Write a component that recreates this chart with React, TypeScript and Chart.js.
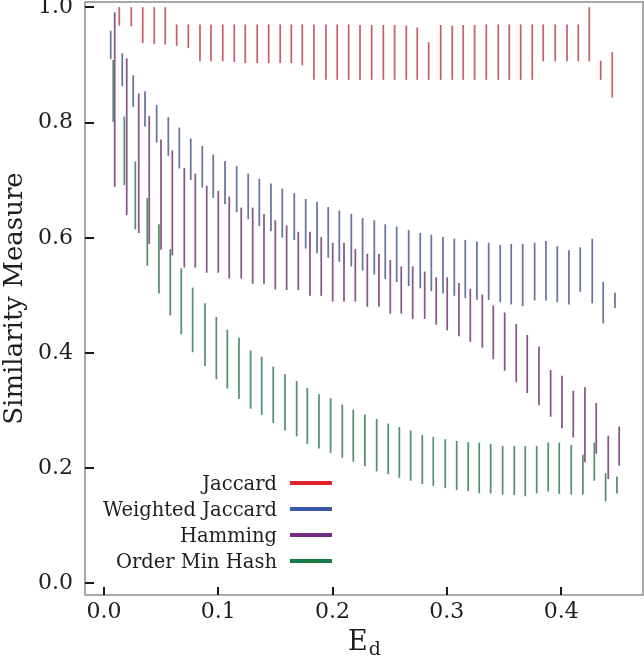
import React, { useEffect, useRef } from 'react';
import { Chart, registerables } from 'chart.js';

Chart.register(...registerables);

// ---------- Data ----------
const seriesNames = ['Jaccard', 'Weighted Jaccard', 'Hamming', 'Order Min Hash'];
const legendColors = ['#e3232b', '#3a57a8', '#742a82', '#1b7b45'];
const barColors = ['rgb(198,98,106)', 'rgb(104,118,158)', 'rgb(136,86,136)', 'rgb(86,146,114)'];

const xTicks = [0, 0.1, 0.2, 0.3, 0.4];
const yTicks = [0, 0.2, 0.4, 0.6, 0.8, 1.0];

const jaccardX = [0.0134, 0.0239, 0.0339, 0.0440, 0.0536, 0.0636, 0.0738, 0.0840, 0.0936, 0.1039, 0.1140, 0.1236, 0.1341, 0.1441, 0.1542, 0.1639, 0.1735, 0.1837, 0.1942, 0.2041, 0.2141, 0.2240, 0.2342, 0.2444, 0.2543, 0.2645, 0.2741, 0.2841, 0.2946, 0.3047, 0.3143, 0.3243, 0.3345, 0.3450, 0.3546, 0.3646, 0.3747, 0.3843, 0.3948, 0.4051, 0.4150, 0.4246, 0.4346, 0.4447];
const jaccardHi = [1.000, 1.000, 1.000, 1.000, 1.000, 0.970, 0.970, 0.970, 0.970, 0.970, 0.970, 0.970, 0.970, 0.970, 0.970, 0.970, 0.970, 0.970, 0.970, 0.970, 0.970, 0.969, 0.969, 0.969, 0.969, 0.968, 0.965, 0.939, 0.969, 0.968, 0.969, 0.969, 0.970, 0.970, 0.970, 0.970, 0.970, 0.970, 0.970, 0.970, 0.970, 1.000, 0.907, 0.922];
const jaccardLo = [0.969, 0.968, 0.939, 0.937, 0.936, 0.934, 0.930, 0.907, 0.907, 0.907, 0.906, 0.904, 0.904, 0.904, 0.904, 0.904, 0.900, 0.875, 0.875, 0.875, 0.875, 0.875, 0.875, 0.875, 0.875, 0.875, 0.875, 0.875, 0.875, 0.875, 0.875, 0.875, 0.875, 0.875, 0.875, 0.875, 0.875, 0.907, 0.907, 0.907, 0.907, 0.907, 0.875, 0.844];

const weightedX = [0.0059, 0.0160, 0.0256, 0.0359, 0.0461, 0.0563, 0.0659, 0.0759, 0.0860, 0.0956, 0.1059, 0.1161, 0.1262, 0.1359, 0.1461, 0.1560, 0.1665, 0.1765, 0.1864, 0.1962, 0.2059, 0.2164, 0.2263, 0.2365, 0.2461, 0.2561, 0.2666, 0.2767, 0.2864, 0.2966, 0.3065, 0.3161, 0.3263, 0.3366, 0.3467, 0.3563, 0.3663, 0.3768, 0.3867, 0.3966, 0.4068, 0.4167, 0.4272, 0.4368, 0.4471];
const weightedHi = [0.959, 0.920, 0.882, 0.854, 0.830, 0.809, 0.791, 0.772, 0.759, 0.744, 0.733, 0.724, 0.711, 0.702, 0.694, 0.685, 0.677, 0.667, 0.662, 0.653, 0.647, 0.641, 0.634, 0.630, 0.623, 0.619, 0.613, 0.608, 0.605, 0.601, 0.598, 0.596, 0.593, 0.591, 0.587, 0.589, 0.589, 0.591, 0.594, 0.585, 0.578, 0.583, 0.598, 0.523, 0.504];
const weightedLo = [0.911, 0.864, 0.828, 0.794, 0.766, 0.743, 0.721, 0.701, 0.688, 0.670, 0.659, 0.645, 0.633, 0.621, 0.612, 0.601, 0.597, 0.582, 0.574, 0.566, 0.559, 0.551, 0.544, 0.537, 0.529, 0.524, 0.517, 0.513, 0.508, 0.504, 0.500, 0.496, 0.493, 0.493, 0.489, 0.485, 0.482, 0.492, 0.492, 0.489, 0.485, 0.507, 0.487, 0.452, 0.479];

const hammingX = [0.0094, 0.0199, 0.0304, 0.0396, 0.0499, 0.0598, 0.0703, 0.0799, 0.0899, 0.1000, 0.1096, 0.1201, 0.1301, 0.1400, 0.1499, 0.1598, 0.1700, 0.1802, 0.1901, 0.2001, 0.2100, 0.2199, 0.2304, 0.2406, 0.2505, 0.2601, 0.2701, 0.2806, 0.2907, 0.3003, 0.3106, 0.3205, 0.3310, 0.3406, 0.3506, 0.3607, 0.3703, 0.3806, 0.3908, 0.4007, 0.4106, 0.4208, 0.4307, 0.4412, 0.4508];
const hammingHi = [0.991, 0.911, 0.850, 0.811, 0.770, 0.751, 0.721, 0.711, 0.690, 0.681, 0.671, 0.652, 0.652, 0.641, 0.630, 0.621, 0.610, 0.610, 0.601, 0.591, 0.591, 0.580, 0.572, 0.572, 0.561, 0.550, 0.550, 0.541, 0.531, 0.531, 0.521, 0.511, 0.501, 0.482, 0.470, 0.450, 0.431, 0.411, 0.370, 0.360, 0.334, 0.340, 0.313, 0.256, 0.272];
const hammingLo = [0.689, 0.640, 0.609, 0.590, 0.580, 0.570, 0.549, 0.549, 0.540, 0.540, 0.530, 0.530, 0.521, 0.521, 0.511, 0.510, 0.510, 0.500, 0.500, 0.490, 0.490, 0.490, 0.481, 0.481, 0.469, 0.469, 0.460, 0.460, 0.450, 0.440, 0.430, 0.420, 0.410, 0.390, 0.370, 0.350, 0.331, 0.310, 0.290, 0.270, 0.254, 0.211, 0.226, 0.182, 0.205];

const orderX = [0.0081, 0.0178, 0.0274, 0.0379, 0.0481, 0.0580, 0.0676, 0.0776, 0.0884, 0.0983, 0.1079, 0.1181, 0.1283, 0.1380, 0.1481, 0.1584, 0.1686, 0.1779, 0.1881, 0.1983, 0.2085, 0.2181, 0.2283, 0.2386, 0.2487, 0.2584, 0.2683, 0.2785, 0.2881, 0.2986, 0.3086, 0.3187, 0.3283, 0.3383, 0.3488, 0.3590, 0.3686, 0.3786, 0.3887, 0.3983, 0.4088, 0.4190, 0.4290, 0.4389, 0.4488];
const orderHi = [0.908, 0.810, 0.732, 0.669, 0.623, 0.580, 0.547, 0.513, 0.486, 0.462, 0.440, 0.426, 0.404, 0.393, 0.376, 0.363, 0.351, 0.339, 0.328, 0.321, 0.310, 0.301, 0.293, 0.285, 0.277, 0.271, 0.265, 0.257, 0.254, 0.250, 0.247, 0.245, 0.244, 0.242, 0.238, 0.238, 0.238, 0.238, 0.244, 0.244, 0.240, 0.223, 0.244, 0.191, 0.185];
const orderLo = [0.802, 0.692, 0.615, 0.552, 0.504, 0.466, 0.433, 0.402, 0.378, 0.355, 0.339, 0.321, 0.304, 0.293, 0.279, 0.266, 0.256, 0.243, 0.235, 0.227, 0.219, 0.212, 0.204, 0.195, 0.190, 0.184, 0.179, 0.173, 0.170, 0.166, 0.163, 0.161, 0.157, 0.157, 0.155, 0.154, 0.152, 0.157, 0.160, 0.156, 0.155, 0.155, 0.179, 0.143, 0.157];

const seriesX = [jaccardX, weightedX, hammingX, orderX];
const seriesLo = [jaccardLo, weightedLo, hammingLo, orderLo];
const seriesHi = [jaccardHi, weightedHi, hammingHi, orderHi];

const xTitle = 'E';
const xTitleSub = 'd';
const yTitle = 'Similarity Measure';

const FONT = '"DejaVu Serif", serif';
const TEXT = '#1e1e1e';

const decorPlugin = {
  id: 'decor',
  afterDraw(chart: any) {
    const { ctx, chartArea } = chart;
    const { left, right, top, bottom } = chartArea;
    const xs = chart.scales.x;
    const ys = chart.scales.y;
    ctx.save();
    // frame
    ctx.strokeStyle = 'rgb(140,140,140)';
    ctx.lineWidth = 1.5;
    ctx.strokeRect(left, top, right - left, bottom - top);
    // inward ticks
    ctx.strokeStyle = '#1a1a1a';
    ctx.lineWidth = 2;
    ys.ticks.forEach((t: any) => {
      const py = Math.round(ys.getPixelForValue(t.value));
      ctx.beginPath();
      ctx.moveTo(left, py);
      ctx.lineTo(left + 9, py);
      ctx.stroke();
    });
    xs.ticks.forEach((t: any) => {
      const px = Math.round(xs.getPixelForValue(t.value));
      ctx.beginPath();
      ctx.moveTo(px, bottom);
      ctx.lineTo(px, bottom - 8);
      ctx.stroke();
    });
    // legend (text left of line)
    const lineX0 = left + 205;
    const lineX1 = left + 247;
    const textRight = left + 192;
    const rowStep = 26;
    const baseY = bottom - 34 - rowStep * (seriesNames.length - 1);
    ctx.font = `19.5px ${FONT}`;
    ctx.textAlign = 'right';
    ctx.textBaseline = 'alphabetic';
    chart.data.datasets.forEach((ds: any, i: number) => {
      const yRow = baseY + i * rowStep;
      ctx.fillStyle = TEXT;
      ctx.fillText(ds.label, textRight, yRow + 7);
      ctx.strokeStyle = legendColors[i];
      ctx.lineWidth = 4;
      ctx.beginPath();
      ctx.moveTo(lineX0, yRow);
      ctx.lineTo(lineX1, yRow);
      ctx.stroke();
    });
    // x title with subscript
    ctx.fillStyle = TEXT;
    ctx.textAlign = 'left';
    ctx.font = `27px ${FONT}`;
    const wE = ctx.measureText(xTitle).width;
    ctx.font = `19px ${FONT}`;
    const wd = ctx.measureText(xTitleSub).width;
    const cx = (left + right) / 2;
    const sx = cx - (wE + wd) / 2;
    ctx.font = `27px ${FONT}`;
    ctx.fillText(xTitle, sx, 650);
    ctx.font = `19px ${FONT}`;
    ctx.fillText(xTitleSub, sx + wE + 1, 655);
    ctx.restore();
  },
};

export default function App() {
  const ref = useRef<HTMLCanvasElement>(null);
  useEffect(() => {
    const datasets = seriesNames.map((name, s) => ({
      type: 'bar' as const,
      label: name,
      data: seriesX[s].map((x, i) => ({ x, y: [seriesLo[s][i], seriesHi[s][i]] })),
      backgroundColor: barColors[s],
      borderWidth: 0,
      barThickness: 1.1,
      grouped: false,
    }));
    const chart = new Chart(ref.current as HTMLCanvasElement, {
      type: 'bar',
      data: { datasets: datasets as any },
      options: {
        animation: false,
        responsive: false,
        devicePixelRatio: 1,
        layout: { padding: { top: 2, right: 1, left: 0, bottom: 0 } },
        plugins: { legend: { display: false }, tooltip: { enabled: false } },
        scales: {
          x: {
            type: 'linear',
            min: -0.0166,
            max: 0.4716,
            offset: false,
            grid: { display: false, drawTicks: false },
            border: { display: false },
            afterBuildTicks: (scale: any) => {
              scale.ticks = xTicks.map((v) => ({ value: v }));
            },
            afterFit: (scale: any) => {
              scale.height = 61;
              scale.paddingLeft = 0;
              scale.paddingRight = 0;
            },
            ticks: {
              padding: 4,
              color: TEXT,
              font: { family: FONT, size: 22 },
              callback: (v: any) => Number(v).toFixed(1),
              maxRotation: 0,
            },
          },
          y: {
            type: 'linear',
            min: -0.02,
            max: 1.0095,
            grid: { display: false, drawTicks: false },
            border: { display: false },
            afterBuildTicks: (scale: any) => {
              scale.ticks = yTicks.map((v) => ({ value: v }));
            },
            afterFit: (scale: any) => {
              scale.width = 85;
              scale.paddingTop = 0;
              scale.paddingBottom = 0;
            },
            ticks: {
              padding: 12,
              color: TEXT,
              font: { family: FONT, size: 22 },
              callback: (v: any) => Number(v).toFixed(1),
            },
            title: {
              display: true,
              text: yTitle,
              color: TEXT,
              font: { family: FONT, size: 26 },
              padding: { top: 0, bottom: 0 },
            },
          },
        },
      },
      plugins: [decorPlugin],
    } as any);
    return () => chart.destroy();
  }, []);
  return (
    <div style={{ position: 'absolute', left: 0, top: 0, width: 644, height: 656, background: '#fff' }}>
      <canvas ref={ref} width={644} height={656} style={{ display: 'block' }} />
    </div>
  );
}
